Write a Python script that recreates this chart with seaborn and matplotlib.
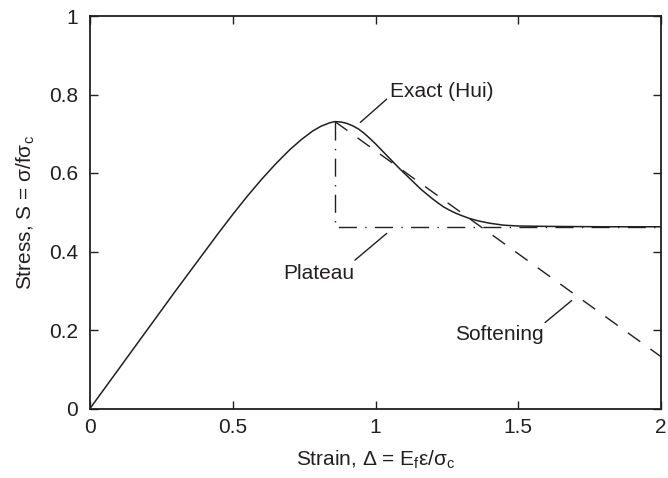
import matplotlib
matplotlib.use("Agg")
import matplotlib.pyplot as plt
import seaborn as sns

# Exact (Hui) curve
exact_x = [0, 0.1, 0.2, 0.3, 0.35, 0.4, 0.45, 0.5, 0.55, 0.6, 0.65, 0.7, 0.74, 0.78,
           0.81, 0.84, 0.858, 0.88, 0.9, 0.92, 0.94, 0.96, 0.98, 1.0, 1.02, 1.04,
           1.06, 1.08, 1.1, 1.12, 1.14, 1.16, 1.18, 1.2, 1.22, 1.24, 1.26, 1.28,
           1.3, 1.33, 1.36, 1.4, 1.45, 1.5, 1.6, 1.8, 2.0]
exact_y = [0, 0.1, 0.2, 0.3, 0.349, 0.398, 0.447, 0.4945, 0.540, 0.583, 0.623, 0.6595, 0.685, 0.707,
           0.7195, 0.728, 0.731, 0.7298, 0.7263, 0.7203, 0.7123, 0.7013, 0.6883, 0.6743, 0.6593, 0.6443,
           0.6293, 0.6143, 0.6, 0.586, 0.572, 0.558, 0.546, 0.534, 0.523, 0.513, 0.505, 0.498,
           0.492, 0.484, 0.478, 0.472, 0.467, 0.465, 0.464, 0.463, 0.463]

# Softening model (straight line from the peak)
soft_x = [0.858, 2.0]
soft_y = [0.731, 0.132]

# Plateau model
plat_x = [0.858, 0.858, 2.0]
plat_y = [0.731, 0.463, 0.463]

x_ticks = [0, 0.5, 1, 1.5, 2]
x_tick_labels = ["0", "0.5", "1", "1.5", "2"]
y_ticks = [0, 0.2, 0.4, 0.6, 0.8, 1]
y_tick_labels = ["0", "0.2", "0.4", "0.6", "0.8", "1"]

sns.set_style("ticks")
plt.rcParams["font.family"] = ["Liberation Sans", "DejaVu Sans"]
plt.rcParams["mathtext.fontset"] = "custom"
plt.rcParams["mathtext.rm"] = "Liberation Sans"
plt.rcParams["mathtext.it"] = "Liberation Sans"

ink = "#231f20"
fs = 15

fig = plt.figure(figsize=(6.68, 4.78), dpi=100)
ax = fig.add_axes([90 / 668, 69.5 / 478, 571 / 668, 392.5 / 478])

common = dict(ax=ax, color=ink, sort=False, estimator=None, errorbar=None)
sns.lineplot(x=exact_x, y=exact_y, lw=1.1, **common)
sns.lineplot(x=soft_x, y=soft_y, lw=1.0, linestyle=(0, (11, 9)), **common)
sns.lineplot(x=plat_x, y=plat_y, lw=1.0, linestyle=(0, (13, 6, 1, 6)), **common)

ax.set_xlim(0, 2)
ax.set_ylim(0, 1)
ax.set_xticks(x_ticks)
ax.set_xticklabels(x_tick_labels)
ax.set_yticks(y_ticks)
ax.set_yticklabels(y_tick_labels)
ax.tick_params(direction="in", length=6, width=1, colors=ink, labelsize=fs,
               top=True, right=True)
ax.tick_params(axis="x", pad=6.5)
ax.tick_params(axis="y", pad=8.6)
for s in ax.spines.values():
    s.set_visible(True)
    s.set_linewidth(1.3)
    s.set_color(ink)

ax.set_xlabel(r"Strain, Δ = E$_\mathregular{f}$ε/σ$_\mathregular{c}$", fontsize=fs,
              color=ink, labelpad=8.5)
ax.set_ylabel(r"Stress, S = σ/fσ$_\mathregular{c}$", fontsize=fs, color=ink, labelpad=8.5)

# Annotations with leader lines
ax.plot([0.947, 1.039], [0.729, 0.788], color=ink, lw=1.0)
ax.text(1.051, 0.794, "Exact (Hui)", fontsize=fs, color=ink, ha="left", va="baseline")

ax.plot([1.039, 0.928], [0.446, 0.378], color=ink, lw=1.0)
ax.text(0.677, 0.330, "Plateau", fontsize=fs, color=ink, ha="left", va="baseline")

ax.plot([1.594, 1.687], [0.219, 0.275], color=ink, lw=1.0)
ax.text(1.279, 0.175, "Softening", fontsize=fs, color=ink, ha="left", va="baseline")

fig.savefig("out.png", dpi=100)
